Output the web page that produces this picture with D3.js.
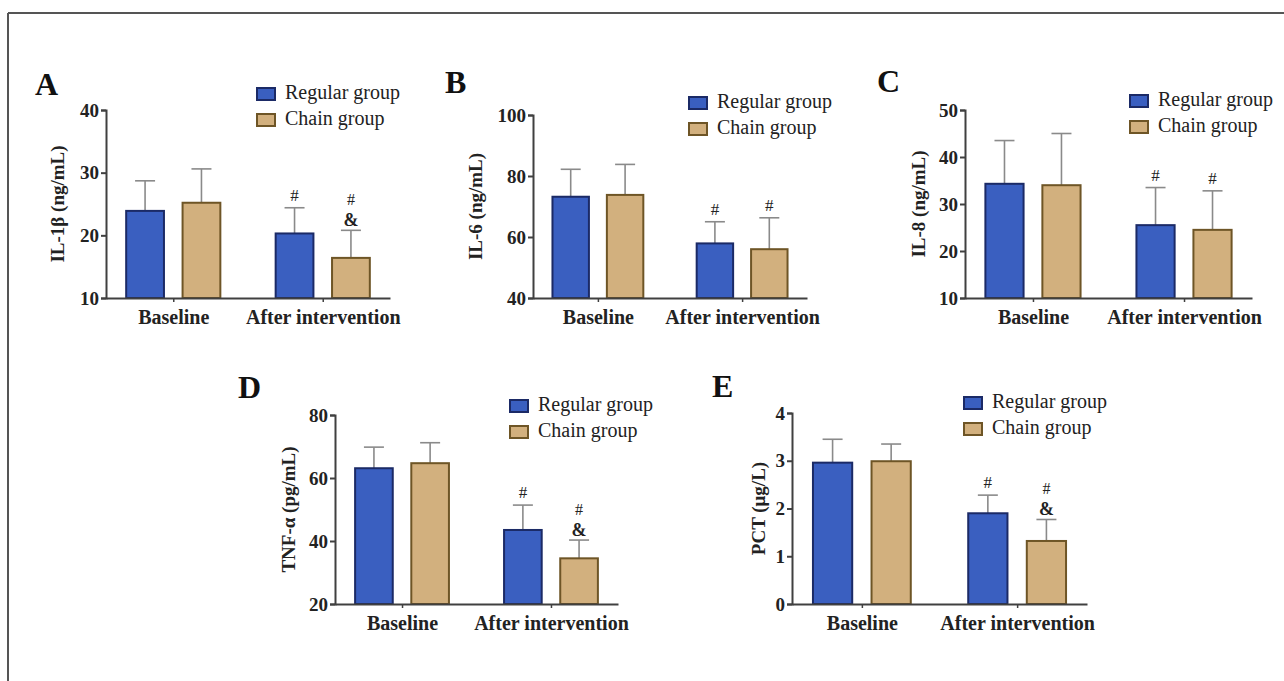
<!DOCTYPE html>
<html>
<head>
<meta charset="utf-8">
<script src="https://cdn.jsdelivr.net/npm/d3@7"></script>
<style>
  html, body { margin: 0; padding: 0; background: #ffffff; }
  svg { display: block; }
  text { font-family: "Liberation Serif", "Times New Roman", serif; }
</style>
</head>
<body>
<svg id="chart" width="1284" height="681"></svg>
<script>
// ---------------- DATA ----------------
const categories = ["Baseline", "After intervention"];
const seriesNames = ["Regular group", "Chain group"];
const panelLetters = ["A", "B", "C", "D", "E"];
const yLabels = ["IL-1β (ng/mL)", "IL-6 (ng/mL)", "IL-8 (ng/mL)", "TNF-α (pg/mL)", "PCT (μg/L)"];
const yDomains = [[10, 40], [40, 100], [10, 50], [20, 80], [0, 4]];
const yTickValues = [[10, 20, 30, 40], [40, 60, 80, 100], [10, 20, 30, 40, 50], [20, 40, 60, 80], [0, 1, 2, 3, 4]];
const regularMeans = [[23.9, 20.3], [73.2, 57.9], [34.3, 25.5], [63.1, 43.5], [2.96, 1.90]];
const chainMeans   = [[25.2, 16.4], [73.8, 56.0], [34.0, 24.5], [64.7, 34.5], [2.99, 1.32]];
const regularSD    = [[4.8, 4.1], [9.0, 7.1], [9.2, 8.0], [6.7, 7.9], [0.49, 0.38]];
const chainSD      = [[5.4, 4.4], [10.0, 10.3], [11.0, 8.3], [6.5, 5.8], [0.36, 0.45]];
const regularMarks = [["", "#"], ["", "#"], ["", "#"], ["", "#"], ["", "#"]];
const chainMarks   = [["", "#&"], ["", "#"], ["", "#"], ["", "#&"], ["", "#&"]];

// ---------------- LAYOUT / STYLE ----------------
const layout = [
  { left: 106, right: 390, top: 110, bottom: 298, legX: 257, legY: 88,  letX: 35,  letY: 95,  labOff: 46 },
  { left: 533, right: 807, top: 115, bottom: 298, legX: 689, legY: 97,  letX: 445, letY: 93,  labOff: 55 },
  { left: 965, right: 1252, top: 110, bottom: 298, legX: 1130, legY: 95, letX: 877, letY: 92,  labOff: 44 },
  { left: 335, right: 618, top: 415, bottom: 604, legX: 510, legY: 400, letX: 238, letY: 398, labOff: 44 },
  { left: 792, right: 1087, top: 413, bottom: 604, legX: 964, legY: 397, letX: 712, letY: 397, labOff: 31 }
];
const fills = ["#3a5fc0", "#d2b07e"];
const strokes = ["#1b2a66", "#6e5526"];
const axisColor = "#404040";
const errColor = "#8a8a8a";

const svg = d3.select("#chart");

// outer frame (top and left edges)
svg.append("line").attr("x1", 8).attr("x2", 1284).attr("y1", 13).attr("y2", 13)
  .attr("stroke", "#555").attr("stroke-width", 2);
svg.append("line").attr("x1", 8).attr("x2", 8).attr("y1", 13).attr("y2", 681)
  .attr("stroke", "#555").attr("stroke-width", 2);

panelLetters.forEach((letter, i) => {
  const L = layout[i];
  const W = L.right - L.left;
  const g = svg.append("g").attr("transform", `translate(${L.left},0)`);

  const y = d3.scaleLinear().domain(yDomains[i]).range([L.bottom, L.top]);
  const x = d3.scalePoint().domain(categories).range([0, W]).padding(0.45);
  const step = x.step();
  const xs = d3.scaleBand().domain(seriesNames)
    .range([-0.315 * step, 0.315 * step]).paddingInner(0.33);
  const bw = xs.bandwidth();

  const means = [regularMeans[i], chainMeans[i]];
  const sds = [regularSD[i], chainSD[i]];
  const marks = [regularMarks[i], chainMarks[i]];

  seriesNames.forEach((s, si) => {
    categories.forEach((c, ci) => {
      const m = means[si][ci], sd = sds[si][ci];
      const bx = x(c) + xs(s);
      const cx = bx + bw / 2;
      // error bar (upper only)
      g.append("line").attr("x1", cx).attr("x2", cx)
        .attr("y1", y(m)).attr("y2", y(m + sd))
        .attr("stroke", errColor).attr("stroke-width", 1.6);
      g.append("line").attr("x1", cx - 10).attr("x2", cx + 10)
        .attr("y1", y(m + sd)).attr("y2", y(m + sd))
        .attr("stroke", errColor).attr("stroke-width", 1.6);
      // bar
      g.append("rect").attr("x", bx).attr("y", y(m))
        .attr("width", bw).attr("height", y(yDomains[i][0]) - y(m))
        .attr("fill", fills[si]).attr("stroke", strokes[si]).attr("stroke-width", 2);
      // annotations
      const mk = marks[si][ci];
      const topY = y(m + sd);
      if (mk === "#") {
        g.append("text").attr("x", cx).attr("y", topY - 7).attr("text-anchor", "middle")
          .attr("font-size", 17).attr("fill", "#222").text("#");
      } else if (mk === "#&") {
        g.append("text").attr("x", cx).attr("y", topY - 4).attr("text-anchor", "middle")
          .attr("font-size", 18).attr("font-weight", "bold").attr("fill", "#222").text("&");
        g.append("text").attr("x", cx).attr("y", topY - 25).attr("text-anchor", "middle")
          .attr("font-size", 16).attr("fill", "#222").text("#");
      }
    });
  });

  // y axis
  const yAxis = g.append("g").call(d3.axisLeft(y).tickValues(yTickValues[i]).tickSize(5).tickPadding(2).tickFormat(d3.format("d")));
  yAxis.select(".domain").attr("stroke", axisColor).attr("stroke-width", 2);
  yAxis.selectAll(".tick line").attr("stroke", axisColor).attr("stroke-width", 2);
  yAxis.selectAll(".tick text").attr("font-family", "Liberation Serif, Times New Roman, serif")
    .attr("font-size", 19).attr("font-weight", "bold").attr("fill", "#222");

  // x axis
  const xAxis = g.append("g").attr("transform", `translate(0,${L.bottom})`)
    .call(d3.axisBottom(x).tickSize(4).tickPadding(8).tickSizeOuter(0));
  xAxis.select(".domain").attr("stroke", axisColor).attr("stroke-width", 2);
  xAxis.selectAll(".tick line").attr("stroke", axisColor).attr("stroke-width", 1.5);
  xAxis.selectAll(".tick text").attr("font-family", "Liberation Serif, Times New Roman, serif")
    .attr("font-size", 20).attr("font-weight", "bold").attr("fill", "#222");

  // y label
  g.append("text")
    .attr("transform", `translate(${-L.labOff},${(L.top + L.bottom) / 2}) rotate(-90)`)
    .attr("text-anchor", "middle").attr("dominant-baseline", "middle")
    .attr("font-size", 19).attr("font-weight", "bold").attr("fill", "#222")
    .text(yLabels[i]);

  // panel letter
  svg.append("text").attr("x", L.letX).attr("y", L.letY)
    .attr("font-size", 32).attr("font-weight", "bold").attr("fill", "#111").text(letter);

  // legend
  seriesNames.forEach((s, si) => {
    const ly = L.legY + si * 26;
    svg.append("rect").attr("x", L.legX).attr("y", ly).attr("width", 18).attr("height", 12)
      .attr("fill", fills[si]).attr("stroke", strokes[si]).attr("stroke-width", 2);
    svg.append("text").attr("x", L.legX + 28).attr("y", ly + 11)
      .attr("font-size", 20).attr("fill", "#222").text(s);
  });
});
</script>
</body>
</html>
